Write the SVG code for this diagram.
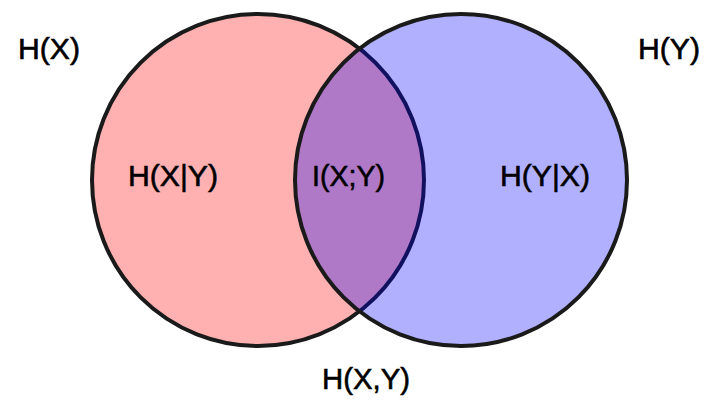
<svg xmlns="http://www.w3.org/2000/svg" width="713" height="407" viewBox="0 0 713 407">
<style>
.c{stroke:#1a1a1a;stroke-width:4}
.t{font-family:"Liberation Sans",Arial,Helvetica,sans-serif;font-size:30px;fill:#000;stroke:#000;stroke-width:0.6}
</style>
<rect width="713" height="407" fill="#fff"/>
<g id="hx">
<circle class="c" cx="258" cy="180" r="166" fill="rgb(255,0,0)" fill-opacity="0.31"/>
</g>
<g id="hy">
<circle class="c" cx="461" cy="180" r="166" fill="rgb(0,0,255)" fill-opacity="0.31"/>
</g>
<g id="labels">
<text class="t" x="18" y="59" textLength="62" lengthAdjust="spacingAndGlyphs">H(X)</text>
<text class="t" x="638" y="59" textLength="62" lengthAdjust="spacingAndGlyphs">H(Y)</text>
<text class="t" x="128" y="186" textLength="90" lengthAdjust="spacingAndGlyphs">H(X|Y)</text>
<text class="t" x="312" y="186" textLength="73" lengthAdjust="spacingAndGlyphs">I(X;Y)</text>
<text class="t" x="500" y="186" textLength="90" lengthAdjust="spacingAndGlyphs">H(Y|X)</text>
<text class="t" x="322" y="389" textLength="88" lengthAdjust="spacingAndGlyphs">H(X,Y)</text>
</g>
</svg>
